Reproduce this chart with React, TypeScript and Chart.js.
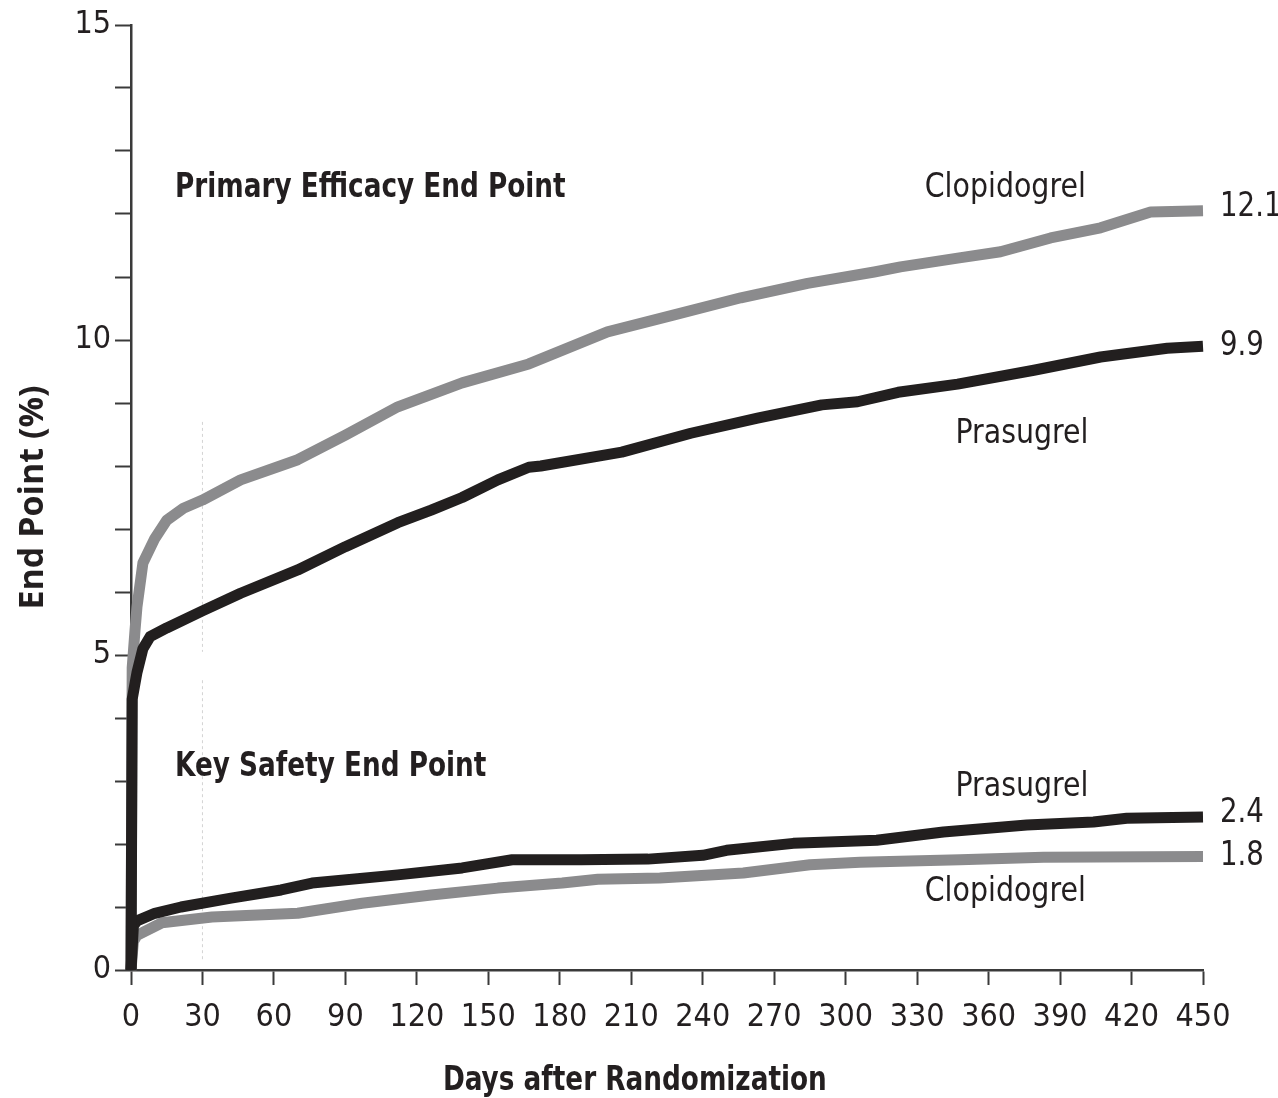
import React, { useEffect, useRef } from 'react';
import { Chart, registerables } from 'chart.js';

Chart.register(...registerables);

// ---- Data ----
const effClopDays = [0, 0.5, 1.7, 2.5, 5, 10, 15, 22, 30, 46, 70, 90, 112, 139, 167, 200, 228, 256, 284, 312, 323, 347, 365, 386, 407, 428, 450];
const effClopVals = [0, 4.8, 5.4, 5.76, 6.46, 6.85, 7.14, 7.33, 7.46, 7.78, 8.1, 8.49, 8.94, 9.32, 9.62, 10.13, 10.4, 10.67, 10.9, 11.08, 11.16, 11.3, 11.4, 11.62, 11.78, 12.03, 12.05];

const effPrasDays = [0, 0.5, 2.5, 5, 8, 15, 30, 46, 70, 90, 112, 126, 139, 154, 167, 172, 206, 235, 263, 290, 305, 322, 347, 379, 407, 435, 450];
const effPrasVals = [0, 4.3, 4.72, 5.1, 5.29, 5.43, 5.7, 5.98, 6.35, 6.72, 7.1, 7.3, 7.5, 7.78, 7.98, 8.0, 8.22, 8.52, 8.76, 8.97, 9.02, 9.17, 9.3, 9.52, 9.73, 9.87, 9.9];

const safPrasDays = [0, 1, 2.5, 10, 21, 42, 63, 76, 112, 139, 160, 189, 217, 240, 250, 278, 313, 341, 376, 404, 418, 450];
const safPrasVals = [0, 0.7, 0.78, 0.9, 1.0, 1.14, 1.27, 1.38, 1.51, 1.62, 1.75, 1.75, 1.76, 1.82, 1.9, 2.01, 2.06, 2.19, 2.3, 2.35, 2.41, 2.43];

const safClopDays = [0, 1, 2.5, 13, 34, 70, 97, 126, 154, 181, 196, 222, 257, 285, 306, 348, 383, 450];
const safClopVals = [0, 0.45, 0.55, 0.75, 0.84, 0.9, 1.06, 1.19, 1.3, 1.38, 1.44, 1.46, 1.54, 1.67, 1.71, 1.75, 1.79, 1.8];

// faint reference line at day 30
const refLineDays = [30, 30, 30, 30, 30];
const refLineVals = [8.7, 5.05, null, 4.6, 0.15];

// Axis settings
const xMin = 0;
const xMax = 450;
const xStep = 30;
const yMin = 0;
const yMax = 15;
const yStep = 1;
const yLabelEvery = 5;

// Text annotations (data coordinates)
const noteTexts = ['Primary Efficacy End Point', 'Key Safety End Point', 'Clopidogrel', 'Prasugrel', 'Prasugrel', 'Clopidogrel'];
const noteDays = [18.5, 18.5, 367, 374, 374, 367];
const noteVals = [12.41, 3.22, 12.41, 8.51, 2.9, 1.24];
const noteBold = [true, true, false, false, false, false];
const noteAlign = ['left', 'left', 'center', 'center', 'center', 'center'];

const endTexts = ['12.1', '9.9', '2.4', '1.8'];
const endVals = [12.1, 9.9, 2.49, 1.81];

const xTitle = 'Days after Randomization';
const xTitleDay = 211.5;
const yTitle = 'End Point (%)';

const GREY = '#8b8b8d';
const BLACK = '#221f1f';
const TEXT = '#231f20';
const AXIS = '#3a3a3a';
const FONT = '"Liberation Sans Narrow", "DejaVu Sans Condensed", "Open Sans", sans-serif';

function pts(d: number[], v: (number | null)[]) {
  return d.map((x, i) => ({ x, y: v[i] }));
}

function drawText(ctx: any, text: string, x: number, y: number, font: string, align: string, sx: number) {
  ctx.save();
  ctx.translate(x, y);
  ctx.scale(sx, 1);
  ctx.font = font;
  ctx.textAlign = align;
  ctx.textBaseline = 'middle';
  ctx.fillText(text, 0, 0);
  ctx.restore();
}

export default function App() {
  const ref = useRef<HTMLCanvasElement>(null);

  useEffect(() => {
    if (!ref.current) return;
    const textPlugin = {
      id: 'texts',
      afterDraw(chart: any) {
        const { ctx, scales } = chart;
        const x = scales.x;
        const y = scales.y;
        ctx.save();
        ctx.fillStyle = TEXT;
        noteTexts.forEach((t, i) => {
          const bold = noteBold[i];
          drawText(
            ctx,
            t,
            x.getPixelForValue(noteDays[i]),
            y.getPixelForValue(noteVals[i]),
            bold ? `bold 34px ${FONT}` : `34px ${FONT}`,
            noteAlign[i],
            bold ? 0.86 : 0.93
          );
        });
        endTexts.forEach((t, i) => {
          drawText(ctx, t, x.right + 17, y.getPixelForValue(endVals[i]), `33px ${FONT}`, 'left', 0.93);
        });
        drawText(ctx, xTitle, x.getPixelForValue(xTitleDay), chart.height - 17, `bold 34px ${FONT}`, 'center', 0.86);
        ctx.restore();
      },
    };

    const lineDs = (label: string, data: any, color: string, order: number) => ({
      label,
      data,
      borderColor: color,
      backgroundColor: color,
      borderWidth: 11,
      pointRadius: 0,
      tension: 0,
      fill: false,
      clip: false as any,
      order,
      borderCapStyle: 'butt',
      borderJoinStyle: 'round',
    });

    const chart = new Chart(ref.current, {
      type: 'line',
      data: {
        datasets: [
          {
            label: 'ref30',
            data: pts(refLineDays, refLineVals),
            borderColor: '#d4d4d4',
            borderWidth: 1,
            borderDash: [3, 3],
            pointRadius: 0,
            spanGaps: false,
            order: 10,
          } as any,
          lineDs('Efficacy Clopidogrel', pts(effClopDays, effClopVals), GREY, 4),
          lineDs('Efficacy Prasugrel', pts(effPrasDays, effPrasVals), BLACK, 1),
          lineDs('Safety Clopidogrel', pts(safClopDays, safClopVals), GREY, 3),
          lineDs('Safety Prasugrel', pts(safPrasDays, safPrasVals), BLACK, 2),
        ] as any,
      },
      options: {
        animation: false,
        responsive: true,
        maintainAspectRatio: false,
        layout: { padding: { top: 25, right: 75, left: 0, bottom: 0 } },
        plugins: {
          legend: { display: false },
          tooltip: { enabled: false },
        },
        scales: {
          x: {
            type: 'linear',
            min: xMin,
            max: xMax,
            ticks: {
              stepSize: xStep,
              autoSkip: false,
              maxRotation: 0,
              color: TEXT,
              padding: 13,
              font: { family: FONT, size: 32 },
            },
            grid: {
              drawOnChartArea: false,
              drawTicks: true,
              tickLength: 15,
              tickColor: AXIS,
              tickWidth: 2,
            },
            border: { display: true, color: AXIS, width: 2.5 },
            afterFit: (s: any) => {
              s.height = 128;
            },
          },
          y: {
            type: 'linear',
            min: yMin,
            max: yMax,
            ticks: {
              stepSize: yStep,
              autoSkip: false,
              color: TEXT,
              padding: 4,
              font: { family: FONT, size: 32 },
              callback: (v: any) => (Number(v) % yLabelEvery === 0 ? String(v) : ''),
            },
            grid: {
              drawOnChartArea: false,
              drawTicks: true,
              tickLength: 16,
              tickColor: AXIS,
              tickWidth: 2,
            },
            border: { display: true, color: AXIS, width: 2.5 },
            title: {
              display: true,
              text: yTitle,
              color: TEXT,
              font: { family: '"Open Sans", sans-serif', size: 34, weight: 'bold' },
              padding: { top: 13, bottom: 0 },
            },
            afterFit: (s: any) => {
              s.width = 131;
            },
          },
        },
      } as any,
      plugins: [textPlugin],
    });
    return () => chart.destroy();
  }, []);

  return (
    <div style={{ position: 'absolute', left: 0, top: 0, width: 1278, height: 1098, background: '#fff' }}>
      <canvas ref={ref} />
    </div>
  );
}
